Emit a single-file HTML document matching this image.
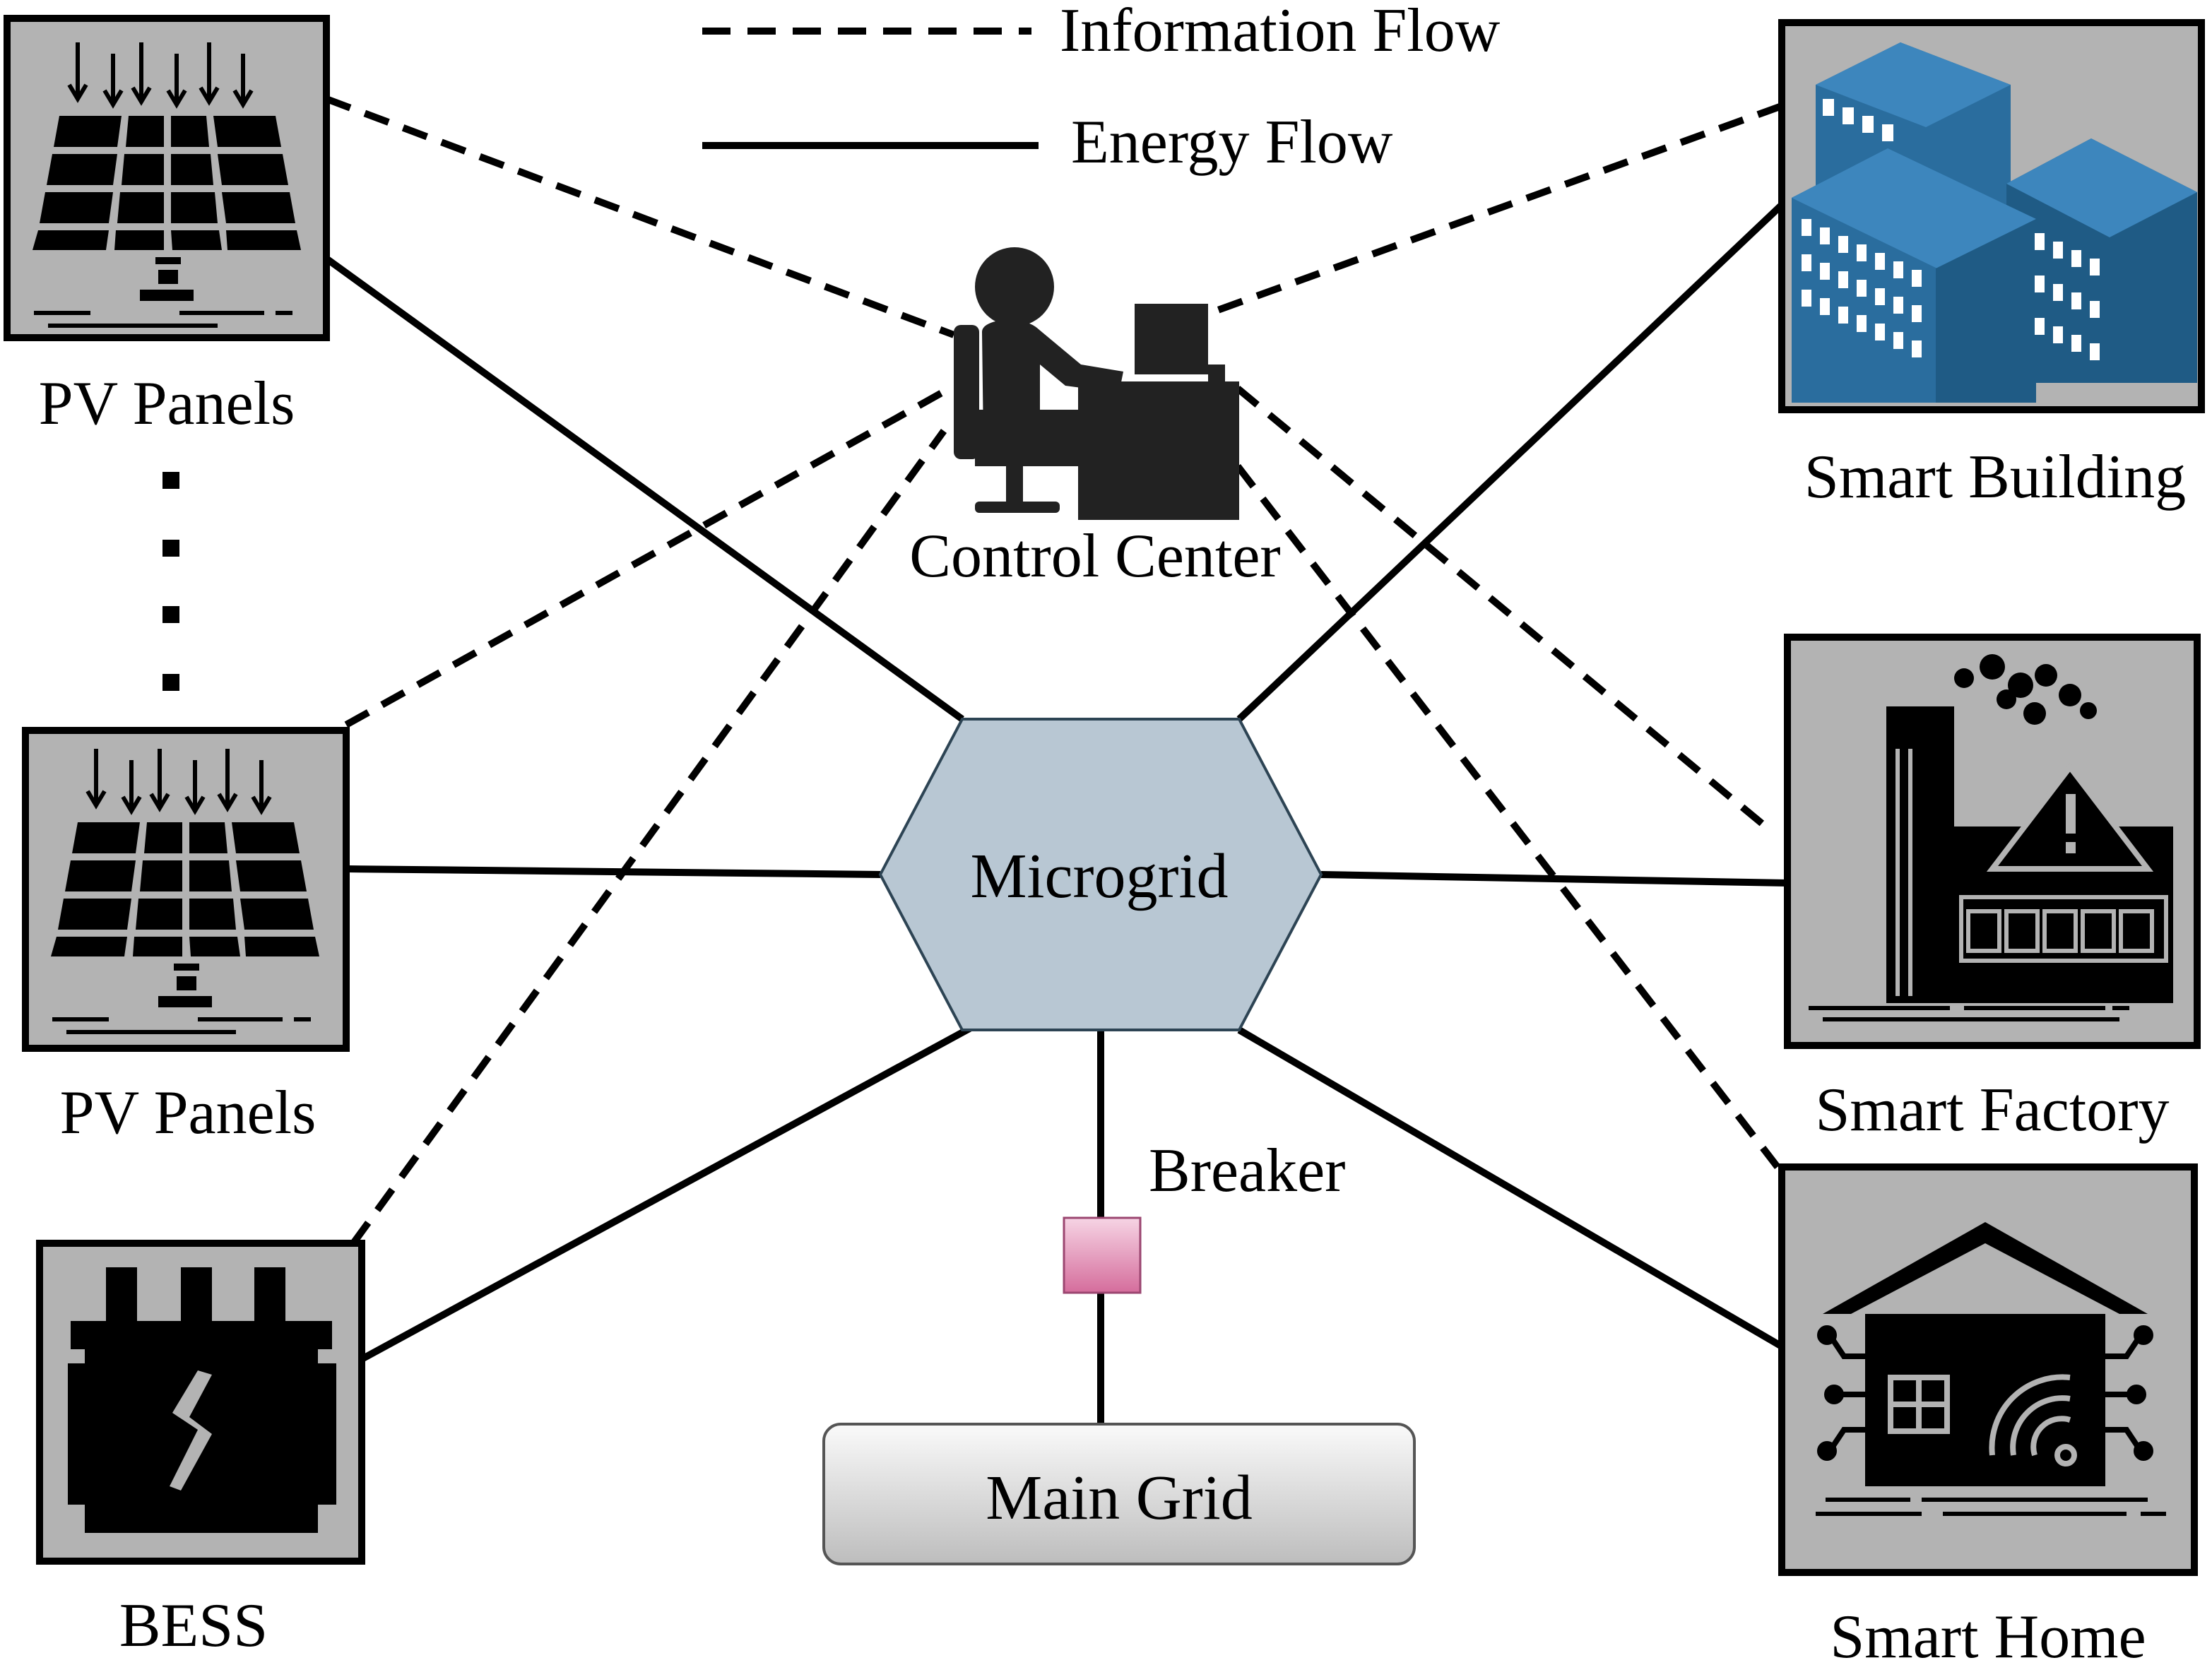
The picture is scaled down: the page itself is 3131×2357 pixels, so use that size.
<!DOCTYPE html>
<html><head><meta charset="utf-8"><style>html,body{margin:0;padding:0;background:#fff}svg{display:block}</style></head>
<body>
<svg width="3131" height="2357" viewBox="0 0 1565.5 1178.5" xmlns="http://www.w3.org/2000/svg" font-family="Liberation Serif, serif">
<defs>
<linearGradient id="pk" x1="0" y1="0" x2="0" y2="1"><stop offset="0" stop-color="#f6d4e4"/><stop offset="1" stop-color="#d56d9c"/></linearGradient>
<linearGradient id="gr" x1="0" y1="0" x2="0" y2="1"><stop offset="0" stop-color="#fafafa"/><stop offset="1" stop-color="#bdbdbd"/></linearGradient>
<g id="pv">
 <g stroke="#000" stroke-width="3" fill="none">
  <path d="M53 20v38M47 50l6 10 6-10M78 28v34M72 54l6 10 6-10M98 20v40M92 52l6 10 6-10M123 28v34M117 54l6 10 6-10M146 20v40M140 52l6 10 6-10M170 28v34M164 54l6 10 6-10"/>
 </g>
 <g fill="#000">
  <path d="M40 72h44l-3 22h-45zM89 72h25v22h-27zM119 72h25l2 22h-27zM149 72h44l4 22h-45z"/>
  <path d="M35 99h46l-3 22h-47zM86 99h28v22h-30zM119 99h28l2 22h-30zM152 99h46l4 22h-47z"/>
  <path d="M30 126h48l-3 22h-49zM83 126h31v22h-33zM119 126h31l2 22h-33zM155 126h48l4 22h-49z"/>
  <path d="M25 153h50l-2 14h-52zM80 153h34v14h-35zM119 153h34l2 14h-35zM158 153h50l3 14h-52z"/>
  <rect x="108" y="172" width="18" height="5"/><rect x="110" y="181" width="14" height="10"/><rect x="97" y="195" width="38" height="8"/>
  <rect x="22" y="210" width="40" height="3"/><rect x="125" y="210" width="60" height="3"/><rect x="193" y="210" width="12" height="3"/><rect x="32" y="219" width="120" height="3"/>
 </g>
</g>
</defs>

<!-- legend -->
<line x1="497" y1="22" x2="730" y2="22" stroke="#000" stroke-width="5" stroke-dasharray="20,12"/>
<text x="750" y="36" font-size="44">Information Flow</text>
<line x1="497" y1="103" x2="735" y2="103" stroke="#000" stroke-width="5"/>
<text x="758" y="115" font-size="44">Energy Flow</text>

<!-- solid lines -->
<g stroke="#000" stroke-width="5" fill="none">
<line x1="231" y1="183" x2="681" y2="509"/>
<line x1="245" y1="615" x2="623" y2="619"/>
<line x1="256" y1="962" x2="688" y2="727"/>
<line x1="1261" y1="145" x2="877" y2="509"/>
<line x1="935" y1="619" x2="1265" y2="625"/>
<line x1="877" y1="729" x2="1261" y2="953"/>
<line x1="779" y1="729" x2="779" y2="862"/>
<line x1="779" y1="915" x2="779" y2="1008"/>
</g>
<!-- dashed lines -->
<g stroke="#000" stroke-width="5" fill="none" stroke-dasharray="18,11">
<line x1="231" y1="70" x2="675" y2="237"/>
<line x1="245" y1="513" x2="672" y2="275"/>
<line x1="250" y1="880" x2="668" y2="305"/>
<line x1="1261" y1="75" x2="855" y2="222"/>
<line x1="876" y1="275" x2="1252" y2="587"/>
<line x1="876" y1="330" x2="1258" y2="826"/>
</g>

<!-- PV1 -->
<rect x="5" y="13" width="226" height="226" fill="#b3b3b3" stroke="#000" stroke-width="5"/>
<use href="#pv" x="2" y="10"/>
<text x="118" y="300" font-size="44" text-anchor="middle">PV Panels</text>
<g fill="#000"><rect x="115" y="334" width="12" height="12"/><rect x="115" y="382" width="12" height="12"/><rect x="115" y="429" width="12" height="12"/><rect x="115" y="477" width="12" height="12"/></g>
<!-- PV2 -->
<rect x="18" y="517" width="227" height="225" fill="#b3b3b3" stroke="#000" stroke-width="5"/>
<use href="#pv" x="15" y="510"/>
<text x="133" y="802" font-size="44" text-anchor="middle">PV Panels</text>

<!-- BESS -->
<rect x="28" y="880" width="228" height="225" fill="#b3b3b3" stroke="#000" stroke-width="5"/>
<g fill="#000">
<rect x="75" y="897" width="22" height="40"/><rect x="128" y="897" width="22" height="40"/><rect x="180" y="897" width="22" height="40"/>
<rect x="50" y="935" width="185" height="20"/>
<rect x="60" y="950" width="165" height="135"/>
<rect x="48" y="965" width="20" height="100"/><rect x="218" y="965" width="20" height="100"/>
</g>
<path d="M140 970l-18 30 18 12-20 40 8 3 22-40-16-12 16-30z" fill="#b3b3b3"/>
<text x="137" y="1165" font-size="44" text-anchor="middle">BESS</text>

<!-- Smart Building -->
<rect x="1261" y="16" width="297" height="274" fill="#b3b3b3" stroke="#000" stroke-width="5"/>
<g>
<path d="M1285 60l60-30 78 30v120h-138z" fill="#2a6d9e"/>
<path d="M1285 60l60-30 78 30-60 30z" fill="#3d86bd"/>
<path d="M1420 130l60-32 75 38v135h-135z" fill="#1f5b85"/>
<path d="M1420 130l60-32 75 38-62 32z" fill="#3d86bd"/>
<path d="M1268 140l68-35 105 50v130h-173z" fill="#2a6d9e"/>
<path d="M1268 140l68-35 105 50-70 35z" fill="#3d86bd"/>
<path d="M1370 190l71-35v130h-71z" fill="#1f5b85"/>
<g fill="#fff">
<rect x="1290" y="70" width="8" height="12"/><rect x="1304" y="76" width="8" height="12"/><rect x="1318" y="82" width="8" height="12"/><rect x="1332" y="88" width="8" height="12"/>
<rect x="1275" y="155" width="7" height="12"/><rect x="1288" y="161" width="7" height="12"/><rect x="1301" y="167" width="7" height="12"/><rect x="1314" y="173" width="7" height="12"/><rect x="1327" y="179" width="7" height="12"/><rect x="1340" y="185" width="7" height="12"/><rect x="1353" y="191" width="7" height="12"/>
<rect x="1275" y="180" width="7" height="12"/><rect x="1288" y="186" width="7" height="12"/><rect x="1301" y="192" width="7" height="12"/><rect x="1314" y="198" width="7" height="12"/><rect x="1327" y="204" width="7" height="12"/><rect x="1340" y="210" width="7" height="12"/><rect x="1353" y="216" width="7" height="12"/>
<rect x="1275" y="205" width="7" height="12"/><rect x="1288" y="211" width="7" height="12"/><rect x="1301" y="217" width="7" height="12"/><rect x="1314" y="223" width="7" height="12"/><rect x="1327" y="229" width="7" height="12"/><rect x="1340" y="235" width="7" height="12"/><rect x="1353" y="241" width="7" height="12"/>
<rect x="1440" y="165" width="7" height="12"/><rect x="1453" y="171" width="7" height="12"/><rect x="1466" y="177" width="7" height="12"/><rect x="1479" y="183" width="7" height="12"/>
<rect x="1440" y="195" width="7" height="12"/><rect x="1453" y="201" width="7" height="12"/><rect x="1466" y="207" width="7" height="12"/><rect x="1479" y="213" width="7" height="12"/>
<rect x="1440" y="225" width="7" height="12"/><rect x="1453" y="231" width="7" height="12"/><rect x="1466" y="237" width="7" height="12"/><rect x="1479" y="243" width="7" height="12"/>
</g>
</g>
<text x="1412" y="352" font-size="44" text-anchor="middle">Smart Building</text>

<!-- Smart Factory -->
<rect x="1265" y="451" width="290" height="289" fill="#b3b3b3" stroke="#000" stroke-width="5"/>
<g fill="#000">
<rect x="1335" y="500" width="48" height="210"/>
<rect x="1383" y="585" width="155" height="125"/>
<rect x="1280" y="712" width="100" height="3"/><rect x="1390" y="712" width="100" height="3"/><rect x="1495" y="712" width="12" height="3"/>
<rect x="1290" y="720" width="210" height="3"/>
<circle cx="1390" cy="480" r="7"/><circle cx="1410" cy="472" r="9"/><circle cx="1430" cy="485" r="9"/><circle cx="1448" cy="478" r="8"/><circle cx="1465" cy="492" r="8"/><circle cx="1440" cy="505" r="8"/><circle cx="1478" cy="503" r="6"/><circle cx="1420" cy="495" r="7"/>
</g>
<path d="M1410 615l55-72 55 72z" fill="#000" stroke="#b3b3b3" stroke-width="4"/>
<g fill="none" stroke="#b3b3b3" stroke-width="3">
<path d="M1343 530v175M1352 530v175M1383 552h38"/>
<rect x="1393" y="645" width="22" height="28"/><rect x="1420" y="645" width="22" height="28"/><rect x="1447" y="645" width="22" height="28"/><rect x="1474" y="645" width="22" height="28"/><rect x="1501" y="645" width="22" height="28"/>
<path d="M1388 635h145v45h-145z"/>
</g>
<rect x="1462" y="562" width="7" height="28" fill="#b3b3b3"/><rect x="1462" y="596" width="7" height="8" fill="#b3b3b3"/>
<text x="1410" y="800" font-size="44" text-anchor="middle">Smart Factory</text>

<!-- Smart Home -->
<rect x="1261" y="826" width="292" height="287" fill="#b3b3b3" stroke="#000" stroke-width="5"/>
<path d="M1290 930l115-65 115 65h-20l-95-50-95 50z" fill="#000"/>
<rect x="1320" y="930" width="170" height="122" fill="#000"/>
<g fill="none" stroke="#b3b3b3" stroke-width="4"><rect x="1338" y="975" width="40" height="38"/><path d="M1358 975v38M1338 994h40"/>
<path d="M1410 1030a50 50 0 0 1 55-55M1425 1030a35 35 0 0 1 40-40M1440 1030a20 20 0 0 1 25-25"/><circle cx="1462" cy="1030" r="6"/></g>
<g stroke="#000" stroke-width="4" fill="#000">
<path d="M1320 960h-15l-10-15M1320 987h-25M1320 1012h-15l-10 15M1490 960h15l10-15M1490 987h25M1490 1012h15l10 15" fill="none"/>
<circle cx="1293" cy="945" r="5"/><circle cx="1298" cy="987" r="5"/><circle cx="1293" cy="1027" r="5"/><circle cx="1517" cy="945" r="5"/><circle cx="1512" cy="987" r="5"/><circle cx="1517" cy="1027" r="5"/>
</g>
<g fill="#000"><rect x="1292" y="1060" width="60" height="3"/><rect x="1360" y="1060" width="160" height="3"/><rect x="1285" y="1070" width="75" height="3"/><rect x="1375" y="1070" width="130" height="3"/><rect x="1515" y="1070" width="18" height="3"/></g>
<text x="1407" y="1173" font-size="44" text-anchor="middle">Smart Home</text>

<!-- Control center -->
<g fill="#222">
<circle cx="718" cy="203" r="28"/>
<path d="M695 235c0-10 30-12 40-2l30 25 30 5-3 15-38-5-18-15v55h-40z"/>
<rect x="675" y="230" width="18" height="95" rx="5"/>
<path d="M690 290h75v40h-75z"/>
<rect x="712" y="328" width="12" height="30"/>
<rect x="690" y="355" width="60" height="8" rx="3"/>
<rect x="763" y="270" width="114" height="98"/>
<rect x="803" y="215" width="52" height="50"/>
<rect x="855" y="258" width="12" height="12"/>
</g>
<text x="775" y="408" font-size="44" text-anchor="middle">Control Center</text>

<!-- Microgrid -->
<polygon points="623,619 681,509 877,509 935,619 877,729 681,729" fill="#b8c7d3" stroke="#2d4454" stroke-width="2"/>
<text x="778" y="635" font-size="45" text-anchor="middle">Microgrid</text>

<!-- Breaker -->
<rect x="753" y="862" width="54" height="53" fill="url(#pk)" stroke="#9b4670" stroke-width="1.5"/>
<text x="813" y="843" font-size="44">Breaker</text>

<!-- Main grid -->
<rect x="583" y="1008" width="418" height="99" rx="12" fill="url(#gr)" stroke="#555" stroke-width="2"/>
<text x="792" y="1075" font-size="45" text-anchor="middle">Main Grid</text>
</svg>
</body></html>
